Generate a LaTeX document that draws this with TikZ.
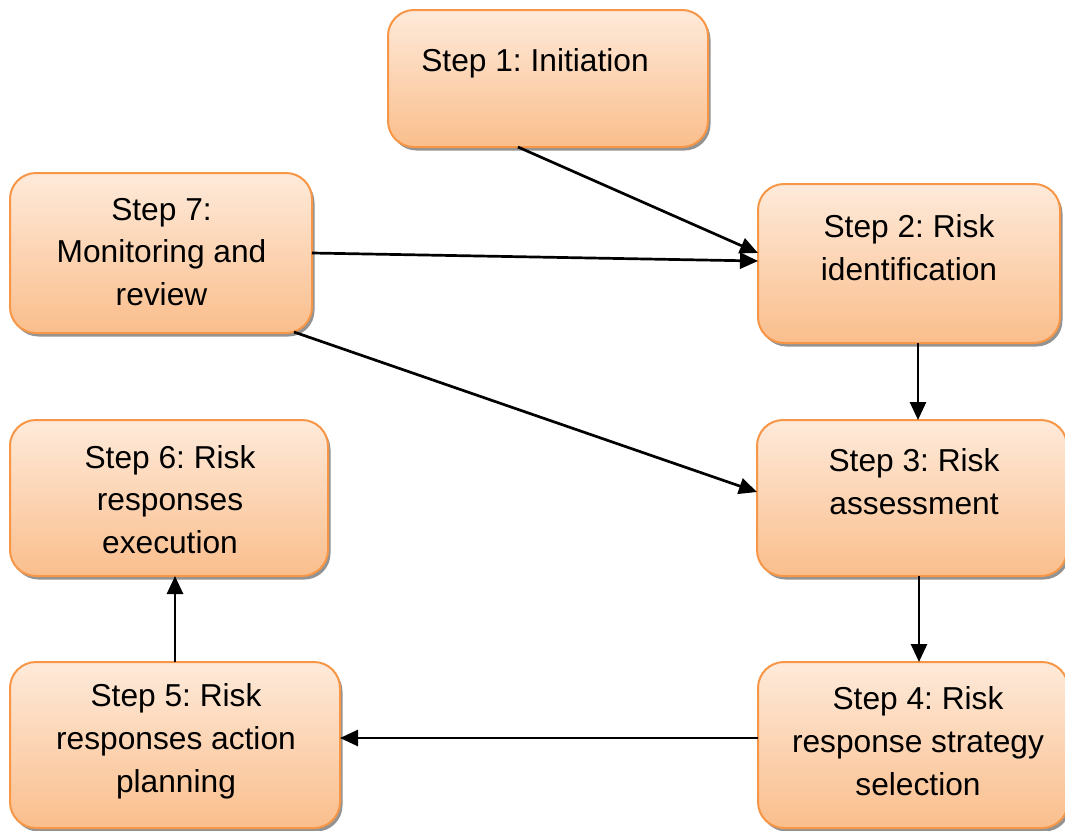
\documentclass[tikz,border=0pt]{standalone}
\usepackage{fontspec}
\setmainfont{Liberation Sans}
\usetikzlibrary{arrows.meta,shadows,calc}
\frenchspacing

\definecolor{boxtop}{RGB}{254,234,218}
\definecolor{boxbottom}{RGB}{250,190,140}
\definecolor{boxline}{RGB}{247,150,70}

\tikzset{
  stepbox/.style={
    draw=boxline, line width=2pt, rounded corners=26pt,
    top color=boxtop, bottom color=boxbottom,
    drop shadow={shadow xshift=2.5pt, shadow yshift=-3.5pt, fill=black!50, opacity=0.85},
    inner sep=0pt, outer sep=0pt
  },
  steptext/.style={
    align=center, inner sep=0pt,
    font=\fontsize{31.7pt}{42.8pt}\selectfont
  },
  flow/.style={
    line width=2.7pt, draw=black,
    -{Triangle[length=18pt,width=16pt]}
  }
}

\begin{document}
\begin{tikzpicture}[x=1pt,y=-1pt]
\useasboundingbox (0,0) rectangle (1065,830);

% process boxes
\node[stepbox, minimum width=320pt, minimum height=137pt] (s1) at (548,78.5) {};
\node[stepbox, minimum width=302pt, minimum height=160pt] (s7) at (161,253) {};
\node[stepbox, minimum width=302pt, minimum height=159pt] (s2) at (909,263.5) {};
\node[stepbox, minimum width=310pt, minimum height=156pt] (s3) at (912,498) {};
\node[stepbox, minimum width=318pt, minimum height=156pt] (s6) at (169,498) {};
\node[stepbox, minimum width=330pt, minimum height=166pt] (s5) at (175,745) {};
\node[stepbox, minimum width=310pt, minimum height=166pt] (s4) at (913,745) {};

% box captions
\node[steptext] (t1) at (535,63) {Step 1: Initiation};
\node[steptext] (t7) at (161.5,252) {Step 7:\\Monitoring and\\review};
\node[steptext] (t2) at (909,248) {Step 2: Risk\\identification};
\node[steptext] (t3) at (914,482) {Step 3: Risk\\assessment};
\node[steptext] (t6) at (170,499.5) {Step 6: Risk\\responses\\execution};
\node[steptext] (t5) at (176,741) {Step 5: Risk\\responses action\\planning};
\node[steptext] (t4) at (918,741) {Step 4: Risk\\response strategy\\selection};

% connectors
\coordinate (a1) at ($(s1.south west)!0.406!(s1.south east)$);
\coordinate (a3) at ($(s7.south east)+(-18,-1)$);
\coordinate (d2) at ($(s2.south)+(9,0)$);
\coordinate (d3) at ($(s3.south)+(7,0)$);

\draw[flow] (a1) -- ([yshift=10.5pt]s2.west);
\draw[flow] (s7.east) -- ([yshift=2.5pt]s2.west);
\draw[flow] (a3) -- ([yshift=6pt]s3.west);
\draw[flow] (d2) -- (d2 |- s3.north);
\draw[flow] (d3) -- (d3 |- s4.north);
\draw[flow] ([yshift=7pt]s4.west) -- ([yshift=7pt]s4.west -| s5.east);
\draw[flow] (s5.north) -- (s5.north |- s6.south);
\end{tikzpicture}
\end{document}
